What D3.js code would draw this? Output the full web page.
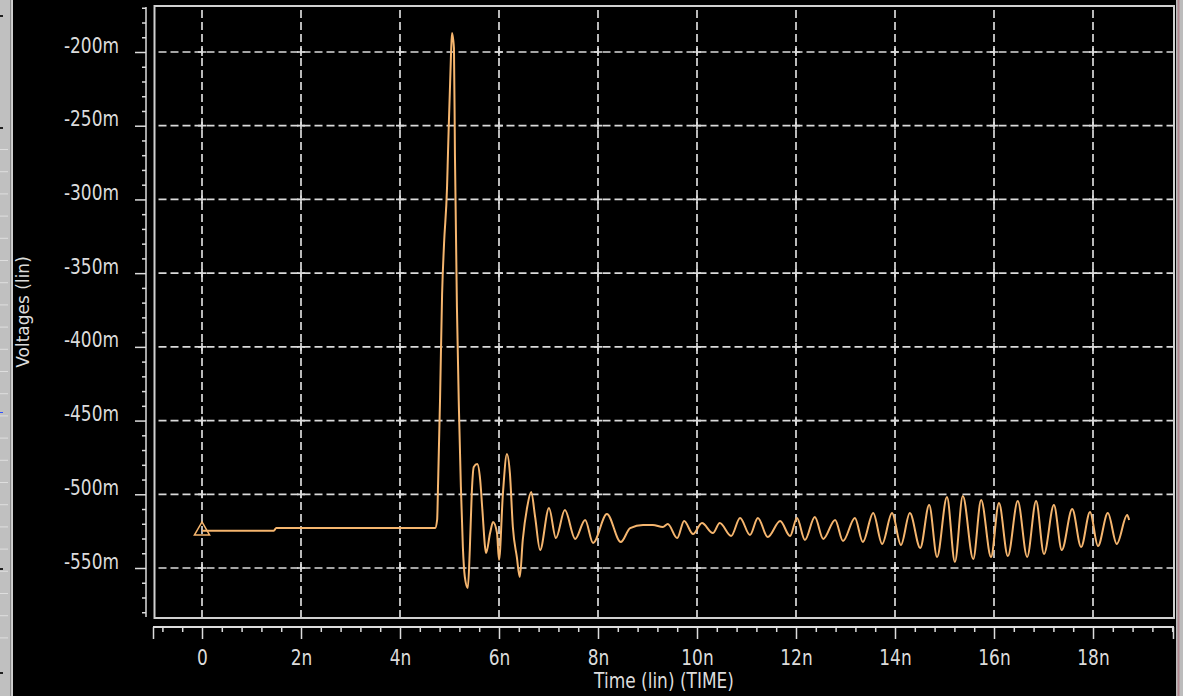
<!DOCTYPE html>
<html>
<head>
<meta charset="utf-8">
<script src="https://cdn.jsdelivr.net/npm/d3@7"></script>
<style>
  html, body { margin: 0; padding: 0; background: #000; overflow: hidden; }
  svg { display: block; }
  text { font-family: "DejaVu Sans", sans-serif; font-size: 17px; fill: #dcdcdc; }
</style>
</head>
<body>
<svg id="chart" width="1183" height="696"></svg>
<script>
// transient simulation, time in ns, voltage in mV
const timeNs = [0, 1.45, 1.5, 4.71, 4.75, 4.77, 4.81, 4.85, 4.89, 4.95,
  4.97, 5.03, 5.05, 5.09, 5.11, 5.15, 5.19, 5.23, 5.27, 5.31,
  5.37, 5.41, 5.45, 5.49, 5.56, 5.62, 5.66, 5.74, 5.82, 5.88,
  5.96, 6.00, 6.08, 6.16, 6.22, 6.28, 6.36, 6.42, 6.48, 6.57,
  6.65, 6.73, 6.83, 7.01, 7.15, 7.33, 7.54, 7.74, 7.90, 8.18,
  8.46, 8.65, 8.91, 9.11, 9.31, 9.41, 9.60, 9.74, 9.92, 10.10,
  10.32, 10.46, 10.69, 10.87, 11.07, 11.23, 11.43, 11.68, 11.88, 12.02,
  12.18, 12.38, 12.55, 12.79, 12.95, 13.19, 13.35, 13.56, 13.74, 13.94,
  14.12, 14.30, 14.51, 14.69, 14.85, 15.05, 15.21, 15.37, 15.58, 15.74,
  15.94, 16.10, 16.28, 16.48, 16.67, 16.85, 17.01, 17.21, 17.37, 17.58,
  17.76, 17.94, 18.10, 18.30, 18.48, 18.69, 18.73];

const voltMv = [-524.7, -524.7, -522.9, -522.9, -517.4, -491.7, -434.0, -364.8, -330.0, -292.0,
  -268.0, -202.0, -187.1, -197.3, -269.9, -373.0, -441.5, -495.1, -535.8, -556.1,
  -563.6, -537.8, -499.1, -481.5, -479.5, -490.3, -508.6, -539.8, -526.3, -518.8,
  -526.3, -544.6, -499.1, -472.7, -485.6, -522.2, -542.5, -556.1, -531.0, -508.6,
  -498.5, -515.4, -537.8, -509.3, -529.7, -510.7, -530.3, -517.4, -533.0, -513.4,
  -532.4, -522.9, -520.8, -520.8, -522.2, -520.2, -529.7, -518.1, -527.0, -519.5,
  -526.3, -519.5, -528.3, -516.1, -527.6, -516.1, -529.0, -518.1, -528.3, -516.1,
  -531.0, -515.4, -530.3, -517.4, -531.7, -516.1, -532.4, -512.7, -533.7, -512.7,
  -534.4, -512.7, -536.4, -507.3, -542.5, -501.8, -545.9, -501.2, -543.9, -503.9,
  -542.5, -505.9, -541.9, -504.6, -542.5, -504.6, -540.5, -507.3, -537.8, -510.0,
  -535.8, -512.0, -535.1, -512.7, -533.7, -514.1, -517.4];

const xTicks = [0, 2, 4, 6, 8, 10, 12, 14, 16, 18];
const yTicks = [-200, -250, -300, -350, -400, -450, -500, -550];

const gray = "#dcdcdc";
const waveColor = "#f5b56e";

const svg = d3.select("#chart");

// plot frame in pixels
const box = { left: 154.5, top: 6, right: 1174, bottom: 618 };
const axisY = 627, axisX = 146;

const x = d3.scaleLinear().domain([0, 18]).range([202, 1093]);
const y = d3.scaleLinear().domain([-200, -550]).range([52, 568]);

// window chrome on the left edge
svg.append("rect").attr("x", 0).attr("y", 0).attr("width", 12).attr("height", 696).attr("fill", "#c0c0c0");
svg.append("g").selectAll("rect")
  .data(d3.range(23).map(k => 149 + k * 22.2))
  .join("rect")
    .attr("x", 0).attr("y", d => d).attr("width", 8).attr("height", 1)
    .attr("fill", "#dedede");
svg.append("g").selectAll("rect")
  .data([15, 127, 568, 672])
  .join("rect")
    .attr("x", 0).attr("y", d => d).attr("width", 3).attr("height", 2)
    .attr("fill", "#202020");
svg.append("rect").attr("x", 0).attr("y", 412).attr("width", 3).attr("height", 1).attr("fill", "#3050ff");
svg.append("rect").attr("x", 10).attr("y", 0).attr("width", 1).attr("height", 696).attr("fill", "#8a8a8a");
svg.append("rect").attr("x", 11.5).attr("y", 0).attr("width", 1.5).attr("height", 696).attr("fill", "#d0d0d0");

// right edge
svg.append("rect").attr("x", 1176).attr("y", 0).attr("width", 7).attr("height", 696).attr("fill", "#bcbcbc");
svg.append("rect").attr("x", 1177.5).attr("y", 0).attr("width", 2).attr("height", 696).attr("fill", "#b08890");

// grid
const grid = svg.append("g")
  .attr("stroke", "#dadada").attr("stroke-width", 1.7).attr("stroke-dasharray", "8,4");
grid.selectAll(".gx").data(xTicks).join("line")
  .attr("x1", d => x(d)).attr("x2", d => x(d))
  .attr("y1", box.top + 4).attr("y2", box.bottom);
grid.selectAll(".gy").data(yTicks).join("line")
  .attr("y1", d => y(d)).attr("y2", d => y(d))
  .attr("x1", box.left + 4).attr("x2", box.right);

const crosses = svg.append("g").attr("stroke", "#dadada").attr("stroke-width", 1.7);
xTicks.forEach(tx => yTicks.forEach(ty => {
  crosses.append("path")
    .attr("d", `M${x(tx) - 4},${y(ty)}h8M${x(tx)},${y(ty) - 4}v8`);
}));

// waveform
const points = timeNs.map((t, i) => [t, voltMv[i]]);
svg.append("path")
  .datum(points)
  .attr("fill", "none")
  .attr("stroke", waveColor)
  .attr("stroke-width", 2)
  .attr("stroke-linejoin", "round")
  .attr("d", d3.line().curve(d3.curveMonotoneX).x(d => x(d[0])).y(d => y(d[1])));

svg.append("path")
  .attr("transform", `translate(${x(timeNs[0])},${y(voltMv[0])})`)
  .attr("d", d3.symbol(d3.symbolTriangle, 100)())
  .attr("fill", "none")
  .attr("stroke", waveColor)
  .attr("stroke-width", 1.5);

// frame
svg.append("rect")
  .attr("x", box.left).attr("y", box.top)
  .attr("width", box.right - box.left).attr("height", box.bottom - box.top)
  .attr("fill", "none").attr("stroke", "#d0d0d0").attr("stroke-width", 2);

// y axis
const yMinor = d3.range(-170, -581, -10).filter(v => v % 50 !== 0);
const yAxis = svg.append("g").attr("transform", `translate(${axisX},0)`);
yAxis.append("g")
  .call(d3.axisLeft(y).tickValues(yMinor).tickSize(4).tickFormat(""));
yAxis.append("g")
  .call(d3.axisLeft(y).tickValues(yTicks).tickSize(11).tickFormat(d => `${d}m`));
yAxis.selectAll(".domain").remove();
yAxis.selectAll("line").attr("stroke", gray).attr("stroke-width", 1.5);
yAxis.selectAll("text")
  .attr("x", -27).attr("dy", 0).attr("y", 0)
  .attr("transform", "scale(1,1.2)")
  .attr("fill", gray).attr("font-family", "DejaVu Sans").attr("font-size", 17);
yAxis.append("line").attr("x1", 0).attr("x2", 0).attr("y1", 7).attr("y2", 617)
  .attr("stroke", gray).attr("stroke-width", 1.5);

// x axis
const xMinor = d3.range(-0.8, 19.7, 0.4).filter(v => Math.abs(v / 2 - Math.round(v / 2)) > 0.01);
const xAxis = svg.append("g").attr("transform", `translate(0,${axisY})`);
xAxis.append("g")
  .call(d3.axisBottom(x).tickValues(xMinor).tickSize(5).tickFormat(""));
xAxis.append("g")
  .call(d3.axisBottom(x).tickValues(xTicks).tickSize(12).tickFormat(d => d === 0 ? "0" : `${d}n`));
xAxis.selectAll(".domain").remove();
xAxis.selectAll("line").attr("stroke", gray).attr("stroke-width", 1.5);
xAxis.selectAll("text")
  .attr("y", 38 / 1.2).attr("dy", 0)
  .attr("transform", "scale(1,1.2)")
  .attr("fill", gray).attr("font-family", "DejaVu Sans").attr("font-size", 17);
xAxis.append("line").attr("x1", 153).attr("x2", 1174).attr("y1", 0).attr("y2", 0)
  .attr("stroke", gray).attr("stroke-width", 2);
[153.5, 1173.5].forEach(px => xAxis.append("line")
  .attr("x1", px).attr("x2", px).attr("y1", 0).attr("y2", 12)
  .attr("stroke", gray).attr("stroke-width", 1.5));

// titles
svg.append("text")
  .attr("transform", "translate(664,688) scale(1,1.2)")
  .attr("text-anchor", "middle")
  .text("Time (lin) (TIME)");

svg.append("text")
  .attr("transform", "translate(29,312) rotate(-90)")
  .attr("text-anchor", "middle")
  .text("Voltages (lin)");
</script>
</body>
</html>
